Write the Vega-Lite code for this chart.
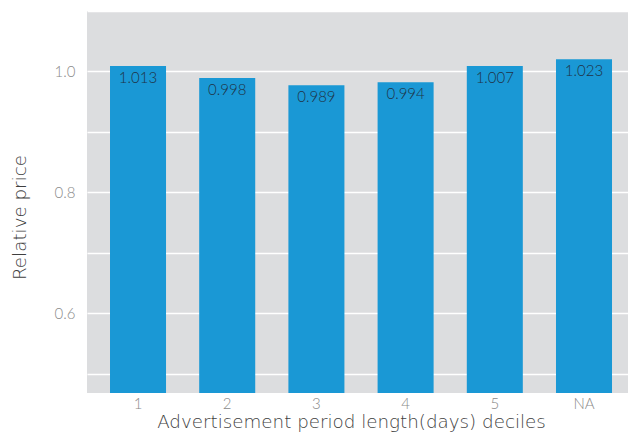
{
  "$schema": "https://vega.github.io/schema/vega-lite/v6.json",
  "width": 541,
  "height": 382,
  "autosize": {"type": "none"},
  "padding": {"left": 87, "top": 11, "right": 0, "bottom": 42},
  "background": "#ffffff",
  "config": {
    "view": {"fill": "#dcdddf", "stroke": null},
    "font": "Lato"
  },
  "data": {
    "values": [
      {"decile": "1", "price": 1.0088, "label": "1.013"},
      {"decile": "2", "price": 0.989, "label": "0.998"},
      {"decile": "3", "price": 0.977, "label": "0.989"},
      {"decile": "4", "price": 0.982, "label": "0.994"},
      {"decile": "5", "price": 1.009, "label": "1.007"},
      {"decile": "NA", "price": 1.020, "label": "1.023"}
    ]
  },
  "encoding": {
    "x": {
      "field": "decile",
      "type": "ordinal",
      "sort": null,
      "scale": {"paddingInner": 0.372, "paddingOuter": 0.2186, "align": 0.59},
      "axis": {
        "title": "Advertisement period length(days) deciles",
        "labelAngle": 0,
        "ticks": false,
        "domain": false,
        "labelFontSize": 15,
        "labelFontWeight": 300,
        "labelColor": "#8a8a8a",
        "labelPadding": 3,
        "titleFont": "DejaVu Sans",
        "titleFontSize": 18.3,
        "titleFontWeight": 200,
        "titleColor": "#3f3f3f",
        "titlePadding": 2,
        "titleX": 264
      }
    }
  },
  "layer": [
    {
      "mark": {"type": "bar", "color": "#1a98d5", "clip": true},
      "encoding": {
        "y": {
          "field": "price",
          "type": "quantitative",
          "scale": {"domain": [0.468, 1.1], "zero": false, "nice": false},
          "axis": {
            "title": "Relative price",
            "values": [0.5, 0.6, 0.7, 0.8, 0.9, 1.0, 1.1],
            "labelExpr": "indexof(['0.6','0.8','1.0'], format(datum.value,'.1f')) >= 0 ? format(datum.value,'.1f') : ''",
            "ticks": false,
            "domain": false,
            "grid": true,
            "gridColor": "#ffffff",
            "gridWidth": 1.6,
            "labelFontSize": 15,
            "labelFontWeight": 300,
            "labelColor": "#8a8a8a",
            "labelPadding": 12,
            "titleFont": "DejaVu Sans",
            "titleFontSize": 18.3,
            "titleFontWeight": 200,
            "titleColor": "#3f3f3f",
            "titlePadding": 25,
            "titleY": 206
          }
        },
        "y2": {"datum": 0}
      }
    },
    {
      "mark": {"type": "text", "baseline": "top", "dy": 5, "fontSize": 15, "fontWeight": 300, "color": "#1f3347"},
      "encoding": {
        "y": {"field": "price", "type": "quantitative"},
        "text": {"field": "label"}
      }
    }
  ]
}
